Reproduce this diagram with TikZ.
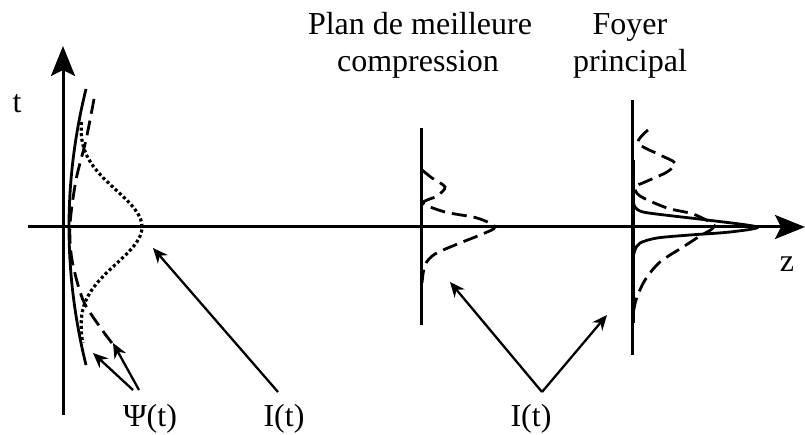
\documentclass[tikz,border=0pt]{standalone}
\usepackage{fontspec}
\setmainfont{Liberation Serif}
\usetikzlibrary{arrows.meta, positioning}

\begin{document}
\begin{tikzpicture}[x=1pt, y=-1pt,
    axe/.style={line width=3pt, -{Stealth[length=30pt, width=24pt, inset=6pt]}},
    trait/.style={line width=3pt},
    courbe/.style={line width=2.8pt},
    tirets/.style={courbe, dash pattern=on 15pt off 7pt},
    points/.style={line width=3.2pt, dash pattern=on 3pt off 2.6pt},
    fleche/.style={line width=2.3pt, -{Stealth[length=15pt, width=13pt]}},
    lbl/.style={font=\fontsize{32}{36}\selectfont, anchor=base, inner sep=0pt}]
  \useasboundingbox (0,0) rectangle (805,435);
  % axes
  \coordinate (tA) at (63,415);
  \coordinate (tB) at (63,46);
  \coordinate (zA) at (28,227);
  \coordinate (zB) at (805,227);
  \draw[axe] (tA) -- (tB);
  \draw[axe] (zA) -- (zB);
  \node[lbl] (t) at (17,113) {t};
  \node[lbl] (z) at (787,272) {z};
  % impulsion initiale
  \draw[courbe] plot[domain=89:365, samples=40] ({69+17*((\x-227)/138)^2}, \x);
  \draw[points] plot[domain=122:343, samples=80, smooth]
    ({70+17*((\x-227)/138)^2+72*exp(0-((\x-227)/53.7)^2)}, \x);
  \draw[tirets] plot[smooth] coordinates {(94,99) (86,140) (76,180) (70,225)
    (72,260) (83,300) (100,327) (115,347)};
  % plan de meilleure compression
  \draw[trait] (421,128) -- (421,325);
  \draw[tirets] plot[smooth] coordinates {(422,170) (432,178) (445,187) (437,196)
    (423,203) (445,212) (477,218) (495,227) (480,235) (460,243) (435,254)
    (425,265) (422,283)};
  \node[lbl] (plan) at (420,35) {Plan de meilleure};
  \node[lbl] (compr) at (418,72) {compression};
  % foyer principal
  \draw[trait] (632,100) -- (632,355);
  \draw[courbe] (633.5,160) -- (633.5,323);
  \draw[courbe] plot[smooth] coordinates {(633,200) (635,207) (643,212) (673,216)
    (707,220) (757,227) (730,232) (690,235) (657,238) (640,243) (635,250)
    (633,258)};
  \draw[tirets] plot[smooth] coordinates {(648,130) (638,143) (660,155) (675,163)
    (667,172) (645,182) (635,187) (640,196) (667,208) (693,214) (713,224)
    (712,229) (700,236) (683,247) (660,262) (645,280) (636,300) (633,315)};
  \node[lbl] (foyer) at (630,35) {Foyer};
  \node[lbl] (princ) at (630,72) {principal};
  % legendes
  \node[lbl] (psi) at (150,426) {Ψ(t)};
  \node[lbl] (iL) at (284,426) {I(t)};
  \node[lbl] (iM) at (531,426) {I(t)};
  \coordinate (psiA) at (133,390);
  \coordinate (psiB) at (139,390);
  \coordinate (psi1) at (93,353);
  \coordinate (psi2) at (113,343);
  \coordinate (iLA) at (278,392);
  \coordinate (iLB) at (153,248);
  \coordinate (v) at (542,392);
  \coordinate (vL) at (450,282);
  \coordinate (vR) at (607,315);
  \draw[fleche] (psiA) -- (psi1);
  \draw[fleche] (psiB) -- (psi2);
  \draw[fleche] (iLA) -- (iLB);
  \draw[fleche] (v) -- (vL);
  \draw[fleche] (v) -- (vR);
\end{tikzpicture}
\end{document}
